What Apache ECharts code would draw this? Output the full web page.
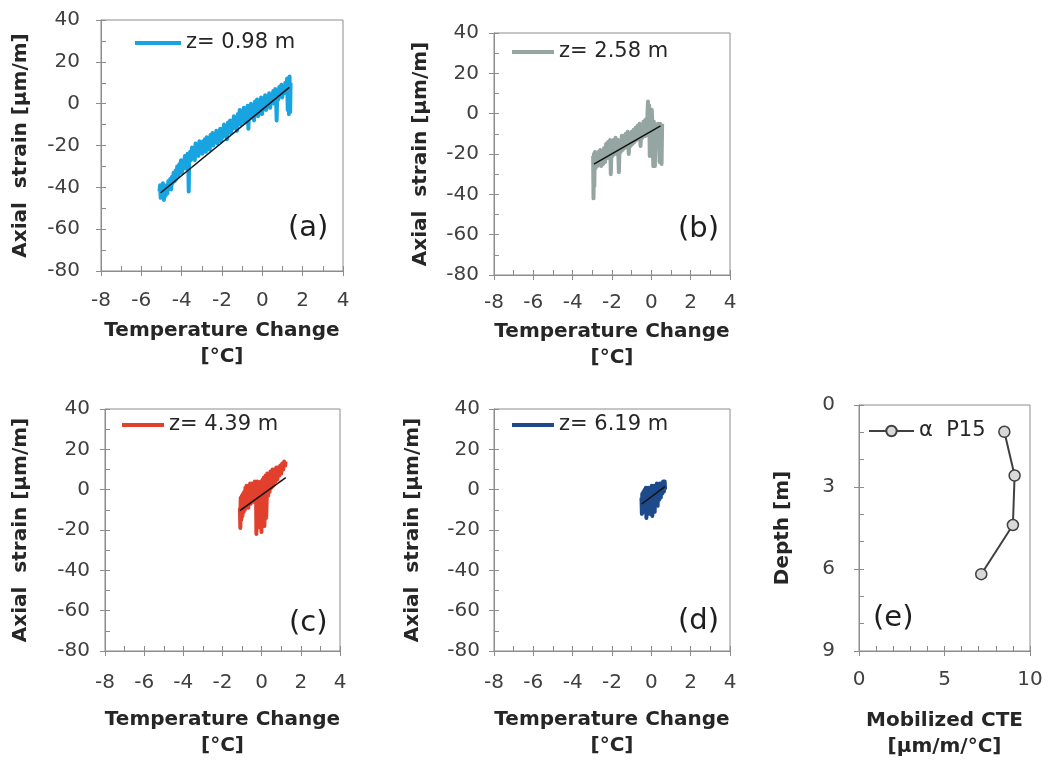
<!DOCTYPE html>
<html>
<head>
<meta charset="utf-8">
<script src="https://cdn.jsdelivr.net/npm/echarts@6/dist/echarts.min.js"></script>
<style>
  html, body { margin: 0; padding: 0; background: #ffffff; }
  #chart { width: 1052px; height: 767px; }
</style>
</head>
<body>
<div id="chart"></div>
<script>
// ---- data -------------------------------------------------------------
// gauge depths (legend names)
const gaugeNames = ['z= 0.98 m', 'z= 2.58 m', 'z= 4.39 m', 'z= 6.19 m'];
const panelLetters = ['(a)', '(b)', '(c)', '(d)', '(e)'];

// axis ranges / tick steps
const tempRange = [-8, 4], tempMajor = 2, tempMinor = 1;
const strainRange = [-80, 40], strainMajor = 20, strainMinor = 10;
const cteRange = [0, 10], cteMajor = 5, cteMinor = 1;
const depthRange = [0, 9], depthMajor = 3, depthMinor = 1;

// [temperature change °C, axial strain µm/m]
const strainA = [
  [-5.10,-42],[-5.07,-39],[-5.04,-45],[-5.00,-41],[-4.96,-43],[-4.93,-38],[-4.88,-46],[-4.84,-42],
  [-4.80,-44],[-4.75,-39],[-4.71,-43],[-4.66,-37],[-4.63,-40],[-4.57,-36],[-4.52,-41],[-4.48,-35],
  [-4.45,-38],[-4.40,-33],[-4.34,-37],[-4.30,-32],[-4.27,-36],[-4.22,-30],[-4.17,-35],[-4.12,-29],
  [-4.09,-31],[-4.03,-27],[-3.99,-33],[-3.94,-28],[-3.90,-30],[-3.84,-25],[-3.80,-31],[-3.76,-26],
  [-3.71,-24],[-3.67,-29],[-3.65,-42],[-3.63,-28],[-3.58,-23],[-3.54,-27],[-3.49,-21],[-3.45,-25],
  [-3.40,-22],[-3.35,-27],[-3.31,-19],[-3.27,-23],[-3.22,-20],[-3.17,-25],[-3.12,-18],[-3.08,-22],
  [-3.03,-19],[-2.98,-24],[-2.94,-18],[-2.90,-21],[-2.85,-17],[-2.80,-23],[-2.76,-16],[-2.71,-20],
  [-2.66,-17],[-2.61,-22],[-2.57,-15],[-2.52,-19],[-2.47,-14],[-2.43,-20],[-2.38,-15],[-2.33,-18],
  [-2.28,-13],[-2.23,-19],[-2.18,-14],[-2.14,-17],[-2.09,-12],[-2.04,-18],[-1.99,-13],[-1.95,-16],
  [-1.90,-10],[-1.85,-15],[-1.80,-11],[-1.75,-17],[-1.70,-9],[-1.65,-13],[-1.60,-8],[-1.56,-14],
  [-1.51,-9],[-1.46,-12],[-1.41,-6],[-1.36,-11],[-1.31,-7],[-1.26,-13],[-1.21,-5],[-1.17,-9],
  [-1.12,-3],[-1.07,-10],[-1.02,-4],[-0.97,-7],[-0.92,-2],[-0.87,-9],[-0.82,-3],[-0.78,-6],
  [-0.73,-1],[-0.69,-12],[-0.66,-2],[-0.61,-7],[-0.56,0],[-0.51,-4],[-0.46,-1],[-0.41,-8],
  [-0.36,1],[-0.31,-3],[-0.26,2],[-0.21,-6],[-0.16,0],[-0.11,-3],[-0.06,3],[-0.01,-5],
  [0.04,2],[0.09,-1],[0.14,4],[0.19,-3],[0.24,3],[0.29,0],[0.34,5],[0.39,-2],
  [0.44,4],[0.49,1],[0.54,6],[0.59,0],[0.64,7],[0.68,3],[0.71,-8],[0.74,6],
  [0.79,2],[0.84,8],[0.89,4],[0.94,9],[0.99,3],[1.04,8],[1.09,5],[1.14,10],
  [1.19,6],[1.23,12],[1.26,-3],[1.29,11],[1.32,-5],[1.35,13],[1.38,-4],[1.40,10]
];
const strainB = [
  [-2.96,-21],[-2.94,-42],[-2.92,-20],[-2.90,-36],[-2.87,-19],[-2.83,-27],[-2.79,-20],[-2.75,-26],
  [-2.70,-19],[-2.65,-25],[-2.60,-18],[-2.55,-26],[-2.50,-19],[-2.45,-25],[-2.40,-17],[-2.35,-24],
  [-2.30,-15],[-2.25,-22],[-2.20,-14],[-2.15,-21],[-2.10,-13],[-2.06,-30],[-2.02,-15],[-1.97,-21],
  [-1.92,-13],[-1.87,-20],[-1.82,-12],[-1.76,-20],[-1.70,-13],[-1.65,-29],[-1.61,-14],[-1.56,-19],
  [-1.50,-11],[-1.45,-18],[-1.40,-11],[-1.35,-17],[-1.30,-10],[-1.25,-16],[-1.20,-9],[-1.15,-20],
  [-1.10,-10],[-1.05,-16],[-1.00,-9],[-0.95,-15],[-0.90,-8],[-0.85,-14],[-0.80,-7],[-0.75,-13],
  [-0.70,-6],[-0.65,-12],[-0.60,-5],[-0.55,-16],[-0.50,-6],[-0.45,-12],[-0.40,-4],[-0.35,-10],
  [-0.30,-3],[-0.25,-8],[-0.20,-1],[-0.17,6],[-0.14,0],[-0.11,4],[-0.08,-21],[-0.05,1],
  [-0.02,-8],[0.02,2],[0.06,-6],[0.10,-26],[0.13,-4],[0.05,-9],[-0.10,-10],[-0.30,-9],
  [-0.50,-10],[-0.30,-11],[-0.10,-9],[0.10,-8],[0.18,-26],[0.22,-6],[0.28,-10],[0.33,-5],
  [0.38,-9],[0.42,-24],[0.45,-5],[0.49,-8],[0.52,-25],[0.55,-5]
];
const strainC = [
  [-1.11,-9],[-1.09,-19],[-1.07,-4],[-1.04,-15],[-1.01,-3],[-0.98,-13],[-0.95,-2],[-0.92,-11],
  [-0.89,-1],[-0.86,-10],[-0.83,1],[-0.80,-9],[-0.77,2],[-0.74,-8],[-0.71,0],[-0.68,-9],
  [-0.65,2],[-0.62,-6],[-0.59,3],[-0.56,-7],[-0.53,1],[-0.50,-5],[-0.47,3],[-0.44,-6],
  [-0.41,2],[-0.38,-5],[-0.35,4],[-0.32,-4],[-0.29,3],[-0.27,-22],[-0.25,-3],[-0.22,4],
  [-0.19,-17],[-0.16,2],[-0.13,-12],[-0.10,3],[-0.07,-19],[-0.04,4],[-0.01,-21],[0.02,2],
  [0.05,5],[0.08,-3],[0.11,6],[0.14,-18],[0.17,-2],[0.20,7],[0.23,-14],[0.26,-4],
  [0.29,8],[0.33,-3],[0.37,7],[0.41,-1],[0.45,9],[0.50,1],[0.55,10],[0.60,2],
  [0.65,10],[0.70,4],[0.75,11],[0.80,5],[0.85,11],[0.90,7],[0.95,12],[1.00,8],
  [1.05,13],[1.10,10],[1.15,14],[1.20,12],[1.22,14]
];
const strainD = [
  [-0.50,-4],[-0.48,-12],[-0.46,-2],[-0.43,-11],[-0.40,-1],[-0.37,-10],[-0.34,0],[-0.31,-9],
  [-0.28,1],[-0.25,-14],[-0.22,-1],[-0.19,-11],[-0.16,1],[-0.13,-9],[-0.10,0],[-0.07,-12],
  [-0.04,1],[-0.01,-10],[0.02,2],[0.05,-13],[0.08,1],[0.11,-8],[0.14,2],[0.17,-11],
  [0.20,2],[0.24,-7],[0.28,3],[0.32,-8],[0.36,2],[0.40,-5],[0.44,3],[0.48,-4],
  [0.52,3],[0.56,-2],[0.60,4],[0.64,-1],[0.68,4],[0.70,0]
];

// linear fits (end points)
const fitA = [[-5.04,-42.6],[1.34,7.8]];
const fitB = [[-2.92,-25.0],[0.47,-6.1]];
const fitC = [[-1.11,-10.4],[1.23,6.0]];
const fitD = [[-0.49,-7.1],[0.69,1.5]];

// mobilized CTE profile
const cteName = 'α  P15';
const cteDepth = [0.98, 2.58, 4.39, 6.19];
const cteValue = [8.5, 9.1, 9.0, 7.15];

// ---- styling / layout -------------------------------------------------
const FONT = 'DejaVu Sans';
const AXIS_COLOR = '#8c8c8c';
const LABEL_COLOR = '#404040';
const TITLE_COLOR = '#262626';
const seriesColors = ['#18a4e0', '#95a5a2', '#e0402c', '#1d4a8a'];

const panels = [
  { grid: { left: 101, top: 20, width: 242, height: 251 }, xMargin: 20, yMargin: 21, xGap: 47, yGap: 67, legend: { left: 135, top: 32, w: 46 }, letterAt: [308, 232] },
  { grid: { left: 494, top: 33, width: 236, height: 242 }, xMargin: 18, yMargin: 15, xGap: 44, yGap: 60, legend: { left: 512, top: 41, w: 42 }, letterAt: [698, 233] },
  { grid: { left: 105, top: 409, width: 235, height: 242 }, xMargin: 22, yMargin: 15, xGap: 56, yGap: 71, legend: { left: 122, top: 414, w: 42 }, letterAt: [309, 627] },
  { grid: { left: 494, top: 409, width: 236, height: 242 }, xMargin: 22, yMargin: 14, xGap: 56, yGap: 68, legend: { left: 512, top: 414, w: 42 }, letterAt: [698, 625] },
  { grid: { left: 859, top: 405, width: 171, height: 246 }, xMargin: 19, yMargin: 24, xGap: 57, yGap: 63, legend: { left: 868, top: 420, w: 45 }, letterAt: [893, 622] }
];

const nameStyle = { fontFamily: FONT, fontWeight: 'bold', fontSize: 20, color: TITLE_COLOR, lineHeight: 26 };

// main axis: labels + outer half of major ticks; overlay axis: inner ticks at every minor step
function axisPair(gridIndex, position, range, major, minor, margin, name, nameGap, inverse) {
  const common = { type: 'value', gridIndex, position, min: range[0], max: range[1], inverse: !!inverse, offset: 0 };
  const main = Object.assign({}, common, {
    interval: major,
    name, nameLocation: 'middle', nameGap,
    nameRotate: position === 'left' ? 90 : 0,
    nameTextStyle: nameStyle,
    axisLine: { show: true, onZero: false, lineStyle: { color: AXIS_COLOR, width: 1 } },
    axisTick: { show: true, inside: false, length: 5, lineStyle: { color: AXIS_COLOR, width: 1 } },
    axisLabel: { show: true, margin, fontFamily: FONT, fontSize: 20, color: LABEL_COLOR },
    splitLine: { show: false },
    minorTick: { show: false }, minorSplitLine: { show: false }
  });
  const overlay = Object.assign({}, common, {
    interval: minor,
    axisLine: { show: false, onZero: false },
    axisTick: { show: true, inside: true, length: 5, lineStyle: { color: AXIS_COLOR, width: 1 } },
    axisLabel: { show: false },
    splitLine: { show: false },
    minorTick: { show: false }, minorSplitLine: { show: false }
  });
  return [main, overlay];
}

const grids = [], xAxes = [], yAxes = [], series = [], legends = [], graphics = [];
const strainSets = [strainA, strainB, strainC, strainD];
const fitSets = [fitA, fitB, fitC, fitD];

panels.forEach((p, i) => {
  grids.push(Object.assign({ show: true, borderColor: AXIS_COLOR, borderWidth: 1, backgroundColor: 'transparent', outerBoundsMode: 'none', containLabel: false }, p.grid));
  const isProfile = i === 4;
  xAxes.push(...axisPair(i, 'bottom',
    isProfile ? cteRange : tempRange,
    isProfile ? cteMajor : tempMajor,
    isProfile ? cteMinor : tempMinor,
    p.xMargin,
    isProfile ? 'Mobilized CTE\n[μm/m/°C]' : 'Temperature Change\n[°C]',
    p.xGap, false));
  yAxes.push(...axisPair(i, 'left',
    isProfile ? depthRange : strainRange,
    isProfile ? depthMajor : strainMajor,
    isProfile ? depthMinor : strainMinor,
    p.yMargin,
    isProfile ? 'Depth [m]' : 'Axial  strain [μm/m]',
    p.yGap, isProfile));

  const legendName = isProfile ? cteName : gaugeNames[i];
  const legend = {
    show: true, left: p.legend.left, top: p.legend.top, padding: 0,
    orient: 'horizontal', itemWidth: p.legend.w, itemHeight: isProfile ? 13 : 4,
    data: [legendName], selectedMode: false,
    textStyle: { fontFamily: FONT, fontSize: 21, color: TITLE_COLOR, lineHeight: 22 }
  };
  if (!isProfile) legend.icon = 'rect';
  legends.push(legend);

  graphics.push({
    type: 'text', left: p.letterAt[0] - 20, top: p.letterAt[1] - 18, silent: true,
    style: { text: panelLetters[i], fontFamily: FONT, fontSize: 29, fill: '#1e1e1e' }
  });

  if (!isProfile) {
    series.push({
      name: gaugeNames[i], type: 'line', xAxisIndex: 2 * i, yAxisIndex: 2 * i,
      data: strainSets[i], symbol: 'none', showSymbol: false, smooth: false,
      lineStyle: { color: seriesColors[i], width: 4, join: 'round' },
      itemStyle: { color: seriesColors[i] }, z: 2, silent: true
    });
    series.push({
      name: gaugeNames[i] + ' fit', type: 'line', xAxisIndex: 2 * i, yAxisIndex: 2 * i,
      data: fitSets[i], symbol: 'none', showSymbol: false,
      lineStyle: { color: '#111111', width: 1.5 }, z: 3, silent: true
    });
  } else {
    series.push({
      name: cteName, type: 'line', xAxisIndex: 2 * i, yAxisIndex: 2 * i,
      data: cteValue.map((v, k) => [v, cteDepth[k]]),
      symbol: 'circle', symbolSize: 11, showSymbol: true,
      lineStyle: { color: '#404040', width: 2 },
      itemStyle: { color: '#d9d9d9', borderColor: '#404040', borderWidth: 1.5 },
      z: 3, silent: true
    });
  }
});

const chart = echarts.init(document.getElementById('chart'), null, { renderer: 'canvas' });
chart.setOption({
  animation: false,
  backgroundColor: '#ffffff',
  grid: grids,
  xAxis: xAxes,
  yAxis: yAxes,
  legend: legends,
  graphic: graphics,
  series
});
</script>
</body>
</html>
